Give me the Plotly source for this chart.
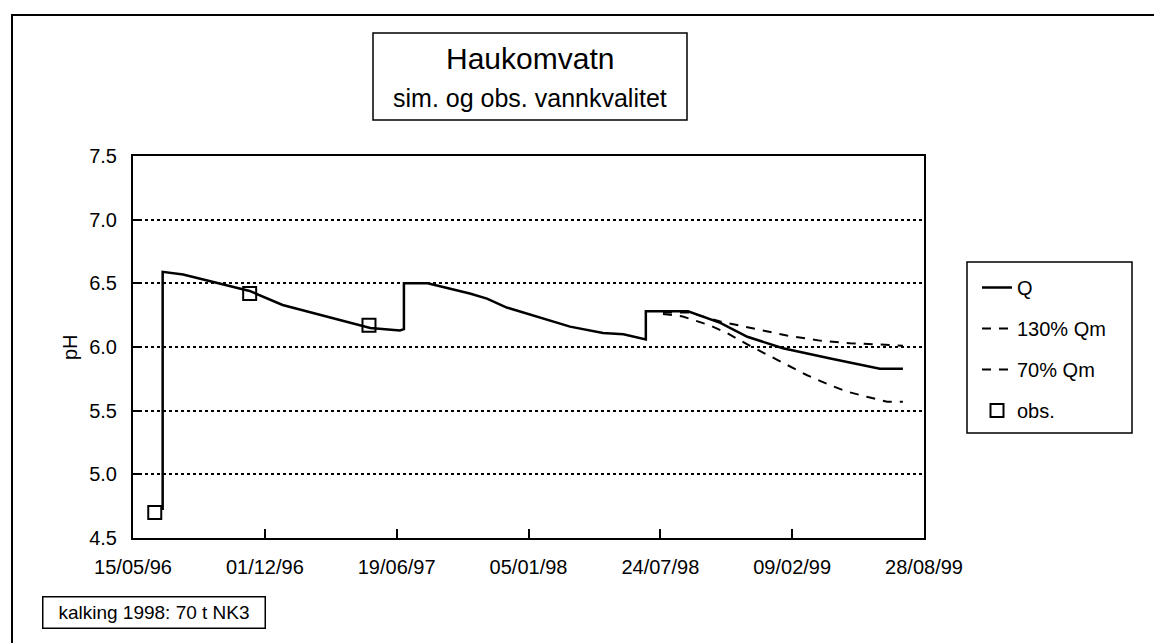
import plotly.graph_objects as go

# ---------------- data ----------------
q_dates = ["1996-06-29", "1996-06-29", "1996-07-30", "1996-11-08", "1996-12-28",
           "1997-03-05", "1997-05-10", "1997-06-24", "1997-06-30", "1997-06-30",
           "1997-08-05", "1997-10-08", "1997-11-03", "1997-12-03", "1998-01-18",
           "1998-03-09", "1998-04-28", "1998-05-29", "1998-07-02", "1998-07-02",
           "1998-09-04", "1998-10-23", "1998-12-03", "1999-01-26", "1999-04-08",
           "1999-06-22", "1999-07-27"]
q_ph = [4.72, 6.59, 6.57, 6.44, 6.33,
        6.24, 6.15, 6.13, 6.14, 6.50,
        6.50, 6.42, 6.38, 6.31, 6.24,
        6.16, 6.11, 6.10, 6.06, 6.28,
        6.28, 6.19, 6.08, 5.99, 5.91,
        5.83, 5.83]

q130_dates = ["1998-07-28", "1998-09-07", "1998-10-23", "1998-12-07", "1999-02-01",
              "1999-03-23", "1999-05-08", "1999-06-22", "1999-07-27"]
q130_ph = [6.27, 6.27, 6.20, 6.15, 6.09, 6.05, 6.03, 6.02, 6.01]

q70_dates = ["1998-07-28", "1998-08-27", "1998-10-07", "1998-11-02", "1998-12-03",
             "1999-01-02", "1999-02-01", "1999-03-03", "1999-04-03", "1999-05-03",
             "1999-06-02", "1999-07-03", "1999-07-27"]
q70_ph = [6.26, 6.24, 6.17, 6.11, 6.02, 5.94, 5.86, 5.78, 5.71, 5.65, 5.61, 5.57, 5.57]

obs_dates = ["1996-06-17", "1996-11-08", "1997-05-08"]
obs_ph = [4.70, 6.42, 6.17]

x_tickvals = ["1996-05-15", "1996-12-01", "1997-06-19", "1998-01-05",
              "1998-07-24", "1999-02-09", "1999-08-28"]
x_ticktext = ["15/05/96", "01/12/96", "19/06/97", "05/01/98",
              "24/07/98", "09/02/99", "28/08/99"]
y_tickvals = [4.5, 5.0, 5.5, 6.0, 6.5, 7.0, 7.5]
y_ticktext = ["4.5", "5.0", "5.5", "6.0", "6.5", "7.0", "7.5"]

FONT = "Liberation Sans, Arial, sans-serif"

# ---------------- figure ----------------
fig = go.Figure()
fig.add_trace(go.Scatter(x=q_dates, y=q_ph, mode="lines", name="Q",
                         legendgroup="a",
                         line=dict(color="black", width=2.5)))
fig.add_trace(go.Scatter(x=q130_dates, y=q130_ph, mode="lines", name="130% Qm",
                         legendgroup="b",
                         line=dict(color="black", width=2, dash="9px,8px")))
fig.add_trace(go.Scatter(x=q70_dates, y=q70_ph, mode="lines", name="70% Qm",
                         legendgroup="c",
                         line=dict(color="black", width=2, dash="9px,8px")))
fig.add_trace(go.Scatter(x=obs_dates, y=obs_ph, mode="markers", name="obs.",
                         legendgroup="d",
                         marker=dict(symbol="square-open", size=13, color="black",
                                     line=dict(width=2, color="black"))))

W, H = 1154, 643
L, R, T, B = 133, 924, 156, 538


def px(xp):
    return (xp - L) / (R - L)


def py(yp):
    return (B - yp) / (B - T)


fig.update_layout(
    width=W, height=H,
    margin=dict(l=L, r=W - R, t=T, b=H - B),
    paper_bgcolor="white", plot_bgcolor="white",
    font=dict(family=FONT, size=20, color="black"),
    showlegend=True,
    legend=dict(x=px(977), y=py(268), xanchor="left", yanchor="top",
                borderwidth=0, bgcolor="rgba(0,0,0,0)",
                font=dict(family=FONT, size=20, color="black"),
                tracegroupgap=12, itemwidth=30),
    xaxis=dict(type="date", range=["1996-05-15", "1999-08-28"],
               tickmode="array", tickvals=x_tickvals, ticktext=x_ticktext,
               ticks="inside", ticklen=9, tickwidth=1.5, tickcolor="black",
               showline=True, linecolor="black", linewidth=2, mirror=True,
               showgrid=False, zeroline=False, ticklabelstandoff=10,
               tickfont=dict(family=FONT, size=20, color="black")),
    yaxis=dict(range=[4.5, 7.5], tickmode="array", tickvals=y_tickvals,
               ticktext=y_ticktext,
               ticks="inside", ticklen=8, tickwidth=1.5, tickcolor="black",
               showline=True, linecolor="black", linewidth=2, mirror=True,
               showgrid=True, gridcolor="black", gridwidth=1.5, griddash="dot",
               zeroline=False, ticklabelstandoff=10,
               tickfont=dict(family=FONT, size=20, color="black")),
)

shapes = [
    # outer frame (top and left edges visible)
    dict(type="line", xref="paper", yref="paper", x0=px(12), x1=px(1154),
         y0=py(15), y1=py(15), line=dict(color="black", width=2)),
    dict(type="line", xref="paper", yref="paper", x0=px(12), x1=px(12),
         y0=py(14), y1=py(643), line=dict(color="black", width=2)),
    # title box
    dict(type="rect", xref="paper", yref="paper", x0=px(373), x1=px(687),
         y0=py(120), y1=py(33), line=dict(color="black", width=1.5),
         fillcolor="white"),
    # legend box
    dict(type="rect", xref="paper", yref="paper", x0=px(967), x1=px(1132),
         y0=py(433), y1=py(262), line=dict(color="black", width=1.5)),
]
fig.update_layout(shapes=shapes)

fig.add_annotation(text="Haukomvatn", xref="paper", yref="paper",
                   x=px(530), y=py(58), showarrow=False,
                   xanchor="center", yanchor="middle",
                   font=dict(family=FONT, size=30, color="black"))
fig.add_annotation(text="sim. og obs. vannkvalitet", xref="paper", yref="paper",
                   x=px(530), y=py(98), showarrow=False,
                   xanchor="center", yanchor="middle",
                   font=dict(family=FONT, size=25, color="black"))
fig.add_annotation(text="pH", xref="paper", yref="y", x=px(70), y=6.0,
                   showarrow=False, textangle=-90,
                   xanchor="center", yanchor="middle",
                   font=dict(family=FONT, size=20, color="black"))
fig.add_annotation(text="kalking 1998: 70 t NK3", xref="paper", yref="paper",
                   x=px(153.5), y=py(612), showarrow=False,
                   xanchor="center", yanchor="middle",
                   width=219, height=28, borderwidth=1.5, bordercolor="black",
                   borderpad=1, bgcolor="white",
                   font=dict(family=FONT, size=19, color="black"))

fig.write_html("out.html",
               config={"displayModeBar": False},
               post_script="document.body.style.margin='0px';"
                           "document.body.style.padding='0px';")
